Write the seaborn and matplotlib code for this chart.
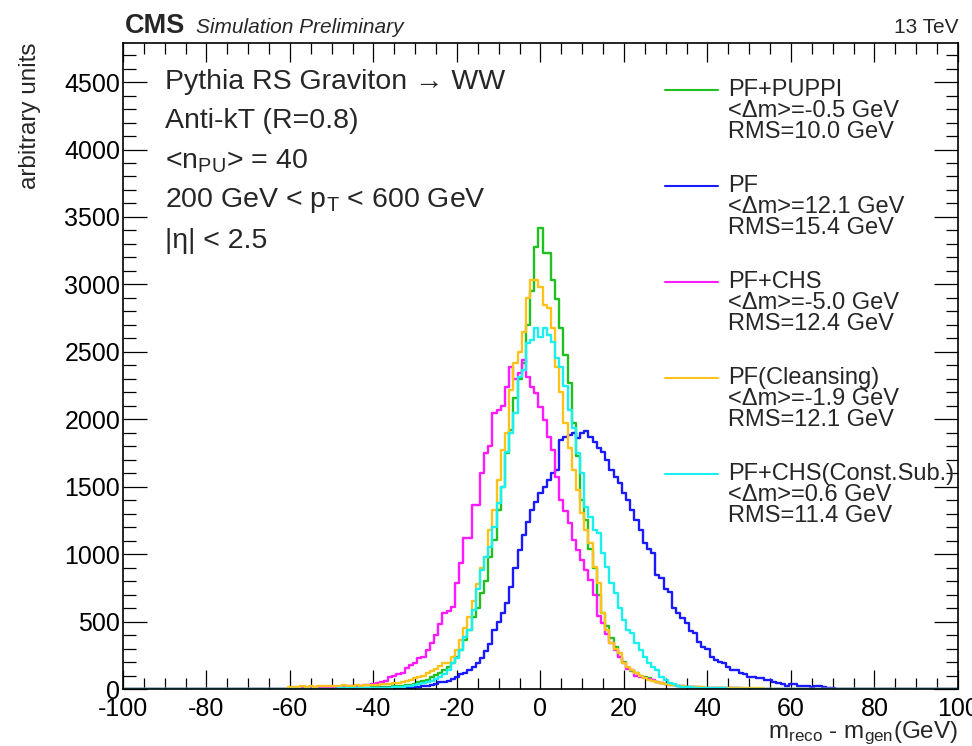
import numpy as np
import pandas as pd
import matplotlib
matplotlib.use('Agg')
import matplotlib.pyplot as plt
from matplotlib.ticker import MultipleLocator
import seaborn as sns

# bin centers (1 GeV bins)
bin_centers = np.arange(-60, 71)

puppi = [3, 4, 3, 5, 4, 5, 6, 5, 6, 7,
         6, 7, 8, 7, 8, 6, 8, 8, 10, 10,
         12, 12, 14, 15, 18, 20, 22, 25, 28, 30,
         40, 50, 58, 67, 90, 105, 120, 141, 163, 190,
         237, 290, 363, 440, 533, 600, 711, 800, 978, 1104,
         1330, 1500, 1750, 1918, 2160, 2300, 2420, 2700, 2950, 3280,
         3420, 3230, 3230, 3030, 2890, 2680, 2480, 2270, 1970, 1730,
         1400, 1250, 1040, 900, 700, 563, 470, 380, 311, 240,
         200, 156, 135, 119, 100, 90, 81, 65, 55, 45,
         40, 35, 28, 24, 20, 18, 15, 14, 12, 10,
         10, 8, 8, 6, 6, 5, 5, 4, 4, 3,
         3, 3, 2, 3, 2, 2, 2, 1, 2, 1,
         1, 1, 1, 1, 0, 1, 0, 0, 0, 0,
         0]

pf = [0, 0, 0, 0, 1, 0, 0, 1, 0, 1,
      1, 1, 2, 1, 2, 2, 2, 3, 3, 3,
      3, 4, 4, 5, 5, 5, 6, 8, 8, 10,
      15, 18, 20, 25, 30, 40, 50, 52, 60, 75,
      89, 110, 119, 141, 163, 193, 230, 280, 330, 440,
      500, 560, 640, 760, 900, 1030, 1140, 1237, 1326, 1385,
      1450, 1496, 1548, 1600, 1622, 1844, 1867, 1880, 1896, 1860,
      1896, 1910, 1867, 1830, 1785, 1756, 1700, 1622, 1570, 1526,
      1452, 1400, 1326, 1252, 1178, 1081, 1040, 1007, 844, 822,
      740, 718, 600, 560, 526, 489, 430, 415, 348, 311,
      300, 240, 215, 200, 193, 160, 141, 141, 119, 110,
      89, 89, 81, 81, 70, 67, 50, 44, 40, 20,
      37, 37, 20, 20, 20, 18, 20, 20, 15, 10,
      8]

chs = [5, 8, 6, 10, 8, 12, 10, 12, 14, 12,
       15, 14, 18, 16, 20, 22, 20, 25, 28, 30,
       40, 45, 52, 60, 89, 100, 110, 119, 156, 175,
       193, 230, 237, 290, 341, 400, 480, 563, 580, 607,
       785, 933, 1118, 1118, 1363, 1363, 1600, 1748, 1800, 2044,
       2067, 2100, 2237, 2385, 2300, 2340, 2437, 2311, 2237, 2193,
       2089, 1993, 1867, 1770, 1570, 1400, 1320, 1230, 1104, 1030,
       960, 880, 807, 700, 540, 489, 410, 341, 289, 240,
       193, 150, 141, 100, 89, 85, 75, 67, 55, 45,
       38, 32, 28, 22, 20, 16, 14, 12, 10, 9,
       8, 8, 6, 6, 5, 5, 4, 4, 3, 3,
       3, 2, 2, 2, 2, 1, 2, 1, 1, 1,
       1, 1, 0, 1, 0, 0, 1, 0, 0, 0,
       0]

cleansing = [15, 18, 14, 20, 16, 22, 18, 20, 24, 20,
             22, 25, 24, 28, 22, 25, 28, 25, 30, 28,
             32, 30, 35, 38, 40, 44, 48, 55, 60, 70,
             81, 90, 100, 119, 130, 150, 170, 193, 193, 237,
             290, 363, 450, 533, 650, 780, 900, 978, 1178, 1326,
             1550, 1770, 1900, 2215, 2415, 2500, 2650, 2896, 3030, 3030,
             2980, 2845, 2822, 2674, 2385, 2200, 1970, 1790, 1622, 1474,
             1304, 1178, 1081, 904, 785, 563, 437, 341, 300, 267,
             193, 165, 140, 119, 100, 82, 67, 58, 50, 42,
             36, 30, 26, 22, 20, 18, 15, 14, 12, 12,
             10, 10, 9, 8, 8, 7, 6, 6, 5, 5,
             5, 4, 4, 4, 3, 3, 3, 2, 3, 2,
             2, 2, 2, 1, 2, 1, 1, 1, 1, 1,
             1]

constsub = [1, 2, 1, 2, 2, 2, 3, 2, 3, 3,
            3, 3, 4, 4, 4, 5, 5, 5, 6, 6,
            6, 7, 8, 9, 10, 12, 15, 18, 22, 25,
            30, 35, 42, 50, 60, 75, 90, 110, 141, 193,
            230, 289, 385, 437, 585, 740, 880, 978, 1050, 1200,
            1378, 1500, 1760, 1900, 2044, 2314, 2363, 2563, 2585, 2674,
            2610, 2674, 2622, 2573, 2452, 2388, 2250, 2067, 1933, 1750,
            1600, 1348, 1274, 1178, 1155, 1007, 904, 785, 711, 600,
            511, 437, 415, 341, 289, 237, 193, 163, 141, 89,
            70, 44, 35, 25, 18, 15, 12, 10, 8, 7,
            6, 5, 5, 4, 4, 3, 3, 3, 2, 2,
            2, 2, 1, 2, 1, 1, 1, 1, 1, 1,
            1, 0, 1, 0, 1, 0, 0, 0, 0, 0,
            0]

algos = ['PF+PUPPI', 'PF', 'PF+CHS', 'PF(Cleansing)', 'PF+CHS(Const.Sub.)']
mean_shift = ['-0.5', '12.1', '-5.0', '-1.9', '0.6']
rms = ['10.0', '15.4', '12.4', '12.1', '11.4']
colors = ['#20c020', '#1a1aff', '#ff1aff', '#ffc21a', '#1af0f0']

info_lines = ['Pythia RS Graviton \u2192 WW',
              'Anti-kT (R=0.8)',
              '<n$_{\\mathrm{PU}}$> = 40',
              '200 GeV < p$_{\\mathrm{T}}$ < 600 GeV',
              '|\u03b7| < 2.5']

sns.set_style('ticks')
plt.rcParams['font.family'] = ['Liberation Sans', 'DejaVu Sans']
plt.rcParams['mathtext.fontset'] = 'custom'
plt.rcParams['mathtext.rm'] = 'Liberation Sans'
plt.rcParams['mathtext.it'] = 'Liberation Sans:italic'
plt.rcParams['mathtext.bf'] = 'Liberation Sans:bold'
plt.rcParams['axes.unicode_minus'] = False

fig = plt.figure(figsize=(9.72, 7.46), dpi=100)
ax = fig.add_axes([0.1265, 0.0764, 0.8591, 0.866])

series = [puppi, pf, chs, cleansing, constsub]
for vals, c in zip(series, colors):
    df = pd.DataFrame({'dm': bin_centers, 'w': vals})
    sns.histplot(data=df, x='dm', weights='w', binwidth=1, binrange=(-100.5, 100.5),
                 element='step', fill=False, color=c, linewidth=1.7, ax=ax)

ax.set_xlim(-100, 100)
ax.set_ylim(0, 4790)
ax.xaxis.set_major_locator(MultipleLocator(20))
ax.xaxis.set_minor_locator(MultipleLocator(5))
ax.yaxis.set_major_locator(MultipleLocator(500))
ax.yaxis.set_minor_locator(MultipleLocator(100))
ax.tick_params(which='both', direction='in', top=True, right=True,
               colors='black', width=0.9, labelsize=18)
ax.tick_params(axis='x', which='major', length=14, pad=6)
ax.tick_params(axis='x', which='minor', length=8)
ax.tick_params(axis='y', which='major', length=17, pad=2)
ax.tick_params(axis='y', which='minor', length=9)
for sp in ax.spines.values():
    sp.set_linewidth(1.2)
    sp.set_color('black')

ax.set_ylabel('arbitrary units', fontsize=17.5, loc='top')
ax.yaxis.set_label_coords(-0.098, 1.0)
ax.set_xlabel('m$_{\\mathrm{reco}}$ - m$_{\\mathrm{gen}}$(GeV)', fontsize=17.5, loc='right')
ax.xaxis.set_label_coords(1.0, -0.047)

# info block, top left
for i, txt in enumerate(info_lines):
    ax.text(0.05, 0.940 - i * 0.0615, txt, transform=ax.transAxes,
            fontsize=20.5, va='center', ha='left')

# legend drawn by hand, ROOT style
for i, (name, c) in enumerate(zip(algos, colors)):
    y0 = 0.927 - i * 0.1485
    ax.plot([0.649, 0.713], [y0, y0], transform=ax.transAxes, color=c, lw=1.5)
    entry = [name, '<\u0394m>=' + mean_shift[i] + ' GeV', 'RMS=' + rms[i] + ' GeV']
    for j, t in enumerate(entry):
        ax.text(0.7245, y0 - j * 0.0325, t, transform=ax.transAxes,
                fontsize=17, va='center', ha='left')

fig.text(0.128, 0.965, 'CMS', fontsize=19.5, fontweight='bold', va='center')
fig.text(0.202, 0.963, 'Simulation Preliminary', fontsize=15, style='italic', va='center')
fig.text(0.986, 0.963, '13 TeV', fontsize=15, ha='right', va='center')

fig.savefig('out.png', dpi=100)
